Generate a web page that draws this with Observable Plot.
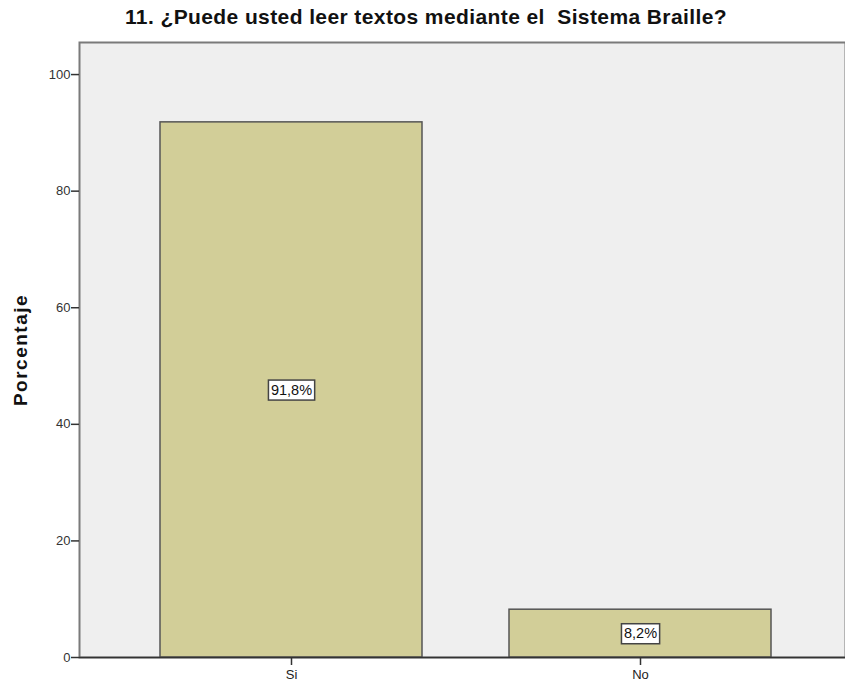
<!DOCTYPE html>
<html>
<head>
<meta charset="utf-8">
<script src="https://cdn.jsdelivr.net/npm/d3@7"></script>
<script src="https://cdn.jsdelivr.net/npm/@observablehq/plot@0.6"></script>
<style>
html, body { margin: 0; padding: 0; background: #fff; overflow: hidden; }
#title { height: 34px; width: 852px; font-family: "Liberation Sans", Arial, sans-serif; font-weight: bold; font-size: 21px; letter-spacing: 0.4px; color: #111; text-align: center; line-height: 34px; white-space: pre; }
#chart svg { display: block; }
g.ylabel text { letter-spacing: 1.5px; }
</style>
</head>
<body>
<div id="title">11. ¿Puede usted leer textos mediante el  Sistema Braille?</div>
<div id="chart"></div>
<script>
const categories = ["Si", "No"];
const percentages = [91.8, 8.2];
const labels = ["91,8%", "8,2%"];
const yTicks = [0, 20, 40, 60, 80, 100];

const data = categories.map((c, i) => ({cat: c, pct: percentages[i], label: labels[i]}));

const chart = Plot.plot({
  width: 845,
  height: 651,
  marginTop: 8,
  marginBottom: 28,
  marginLeft: 79,
  marginRight: 0,
  style: {fontFamily: "Liberation Sans, Arial, sans-serif", fontSize: "13px", color: "#333", background: "#fff"},
  x: {domain: categories, range: [79, 852], paddingInner: 0.25, paddingOuter: 0.232, label: null},
  y: {domain: [0, 105.5], label: null},
  marks: [
    Plot.frame({fill: "#efefef", stroke: "#7a7a7a", strokeWidth: 2}),
    Plot.barY(data, {x: "cat", y: "pct", fill: "#d2ce98", stroke: "#555", strokeWidth: 1.5}),
    Plot.ruleY([0], {stroke: "#333", strokeWidth: 1.5}),
    Plot.axisY({ticks: yTicks, tickSize: 8, tickPadding: 1, stroke: "#333", strokeWidth: 1.5, fill: "#333", fontSize: 13, label: null}),
    Plot.axisX({tickSize: 8, tickPadding: 4, stroke: "#333", strokeWidth: 1.5, fill: "#222", fontSize: 13, label: null}),
    Plot.text(data, {x: "cat", y: d => d.pct / 2, text: "label", fill: "#111", fontSize: 14.5, className: "barlabel"}),
    Plot.text(["Porcentaje"], {frameAnchor: "left", dx: -59, rotate: -90, textAnchor: "middle", text: d => d, fontWeight: "bold", fontSize: 19, fill: "#111", className: "ylabel"})
  ]
});
document.getElementById("chart").appendChild(chart);

// white boxes behind the bar labels
const svg = d3.select(chart);
svg.selectAll("g.barlabel text").each(function() {
  const b = this.getBBox();
  const g = this.parentNode;
  const t = this.getAttribute("transform");
  const r = document.createElementNS("http://www.w3.org/2000/svg", "rect");
  r.setAttribute("x", b.x - 2.5);
  r.setAttribute("y", b.y - 1.5);
  r.setAttribute("width", b.width + 5);
  r.setAttribute("height", b.height + 4);
  r.setAttribute("fill", "#fff");
  r.setAttribute("stroke", "#444");
  r.setAttribute("stroke-width", 1.5);
  if (t) r.setAttribute("transform", t);
  g.insertBefore(r, this);
});
</script>
</body>
</html>
